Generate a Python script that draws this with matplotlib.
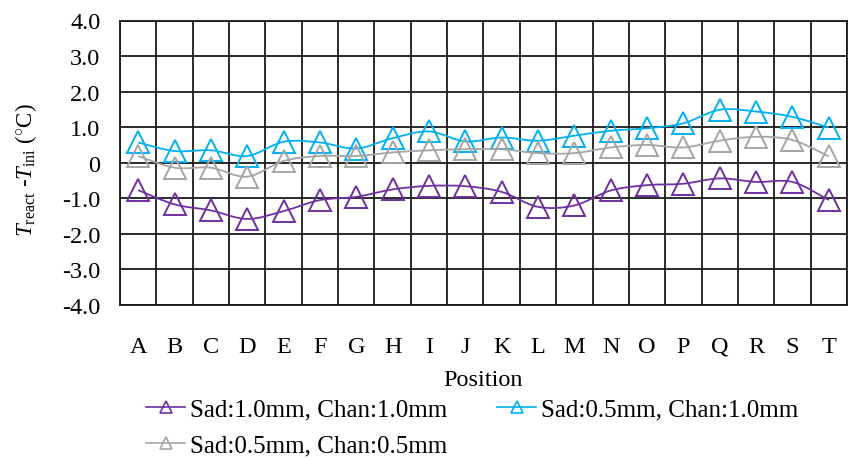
import matplotlib
matplotlib.use("Agg")
import matplotlib.pyplot as plt
from matplotlib.path import Path
from matplotlib.patches import PathPatch
from matplotlib.lines import Line2D
import numpy as np

plt.rcParams['font.family'] = ['Liberation Serif', 'DejaVu Serif']
plt.rcParams['mathtext.fontset'] = 'custom'
plt.rcParams['mathtext.rm'] = 'Liberation Serif'
plt.rcParams['mathtext.it'] = 'Liberation Serif:italic'

positions = list("ABCDEFGHIJKLMNOPQRST")
sad10_chan10 = [-0.77, -1.17, -1.34, -1.58, -1.36, -1.05, -0.96, -0.75, -0.65, -0.66,
                -0.82, -1.24, -1.20, -0.78, -0.63, -0.59, -0.44, -0.54, -0.54, -1.05]
sad05_chan10 = [0.57, 0.33, 0.35, 0.19, 0.59, 0.57, 0.40, 0.69, 0.88, 0.60,
                0.71, 0.62, 0.76, 0.90, 0.97, 1.11, 1.49, 1.44, 1.29, 0.99]
sad05_chan05 = [0.19, -0.14, -0.14, -0.39, 0.05, 0.19, 0.19, 0.29, 0.35, 0.38,
                0.38, 0.27, 0.27, 0.43, 0.50, 0.43, 0.62, 0.73, 0.64, 0.18]
series_names = ["Sad:1.0mm, Chan:1.0mm", "Sad:0.5mm, Chan:1.0mm", "Sad:0.5mm, Chan:0.5mm"]
series_colors = ["#7030A0", "#00B0F0", "#A5A5A5"]
yticks = [-4, -3, -2, -1, 0, 1, 2, 3, 4]
ytick_labels = ["-4.0", "-3.0", "-2.0", "-1.0", "0", "1.0", "2.0", "3.0", "4.0"]

fig = plt.figure(figsize=(8.48, 4.6), dpi=100)
ax = fig.add_axes([120/848, 1-306/460, 727/848, (306-21.5)/460])

def smooth_path(xs, ys):
    pts = np.column_stack([xs, ys]).astype(float)
    n = len(pts)
    verts = [pts[0]]
    codes = [Path.MOVETO]
    for i in range(n-1):
        p0 = pts[i-1] if i > 0 else pts[i]
        p1 = pts[i]
        p2 = pts[i+1]
        p3 = pts[i+2] if i+2 < n else pts[i+1]
        c1 = p1 + (p2 - p0)/6.0
        c2 = p2 - (p3 - p1)/6.0
        verts += [c1, c2, p2]
        codes += [Path.CURVE4]*3
    return Path(verts, codes)

x = np.arange(len(positions))
series = [sad10_chan10, sad05_chan10, sad05_chan05]
order = [2, 1, 0]
for i in order:
    ys = series[i]
    col = series_colors[i]
    patch = PathPatch(smooth_path(x, ys), facecolor='none', edgecolor=col, lw=1.3, zorder=3+i)
    ax.add_patch(patch)
    ax.plot(x, ys, linestyle='none', marker='^', ms=15.5, mfc='none', mec=col, mew=1.4, zorder=3+i)

handles = []
for i in range(3):
    handles.append(Line2D([0], [0], color=series_colors[i], lw=1.2, marker='^', ms=9,
                          mfc='none', mec=series_colors[i], mew=1.2))
# column-first fill: put items so rows read 0,1 / 2
leg_order = [0, 2, 1]

ax.set_xlim(-0.5, len(positions)-0.5)
ax.set_ylim(-4, 4)
ax.set_yticks(yticks)
ax.set_yticklabels(ytick_labels)
ax.set_xticks(x)
ax.set_xticklabels(positions)
ax.set_xticks(np.arange(len(positions)+1)-0.5, minor=True)
ax.tick_params(axis='both', which='both', length=0, labelsize=17.5)
ax.tick_params(axis='y', pad=14)
ax.tick_params(axis='x', pad=22)
ax.grid(True, axis='y', which='major', color='#1a1a1a', lw=1.3)
ax.grid(True, axis='x', which='minor', color='#1a1a1a', lw=1.3)
ax.grid(False, axis='x', which='major')
for s in ax.spines.values():
    s.set_color('#1a1a1a')
    s.set_linewidth(1.3)
ax.set_axisbelow(True)

ax.set_xlabel("Position", fontsize=17.5, labelpad=9)
fig.text(26/848, 1-170/460, r'$T_{\mathrm{react}}$ -$T_{\mathrm{ini}}$ ($^{\circ}$C)',
         rotation=90, ha='center', va='center', fontsize=16.5)

fig.legend(handles=[handles[k] for k in leg_order], labels=[series_names[k] for k in leg_order],
           loc='upper left',
           bbox_to_anchor=(146/848, 1-399/460), ncol=2, frameon=False, fontsize=18,
           handlelength=1.56, handletextpad=0.2, columnspacing=2.0, labelspacing=0.55,
           borderaxespad=0, borderpad=0)

fig.savefig("out.png", dpi=100)
